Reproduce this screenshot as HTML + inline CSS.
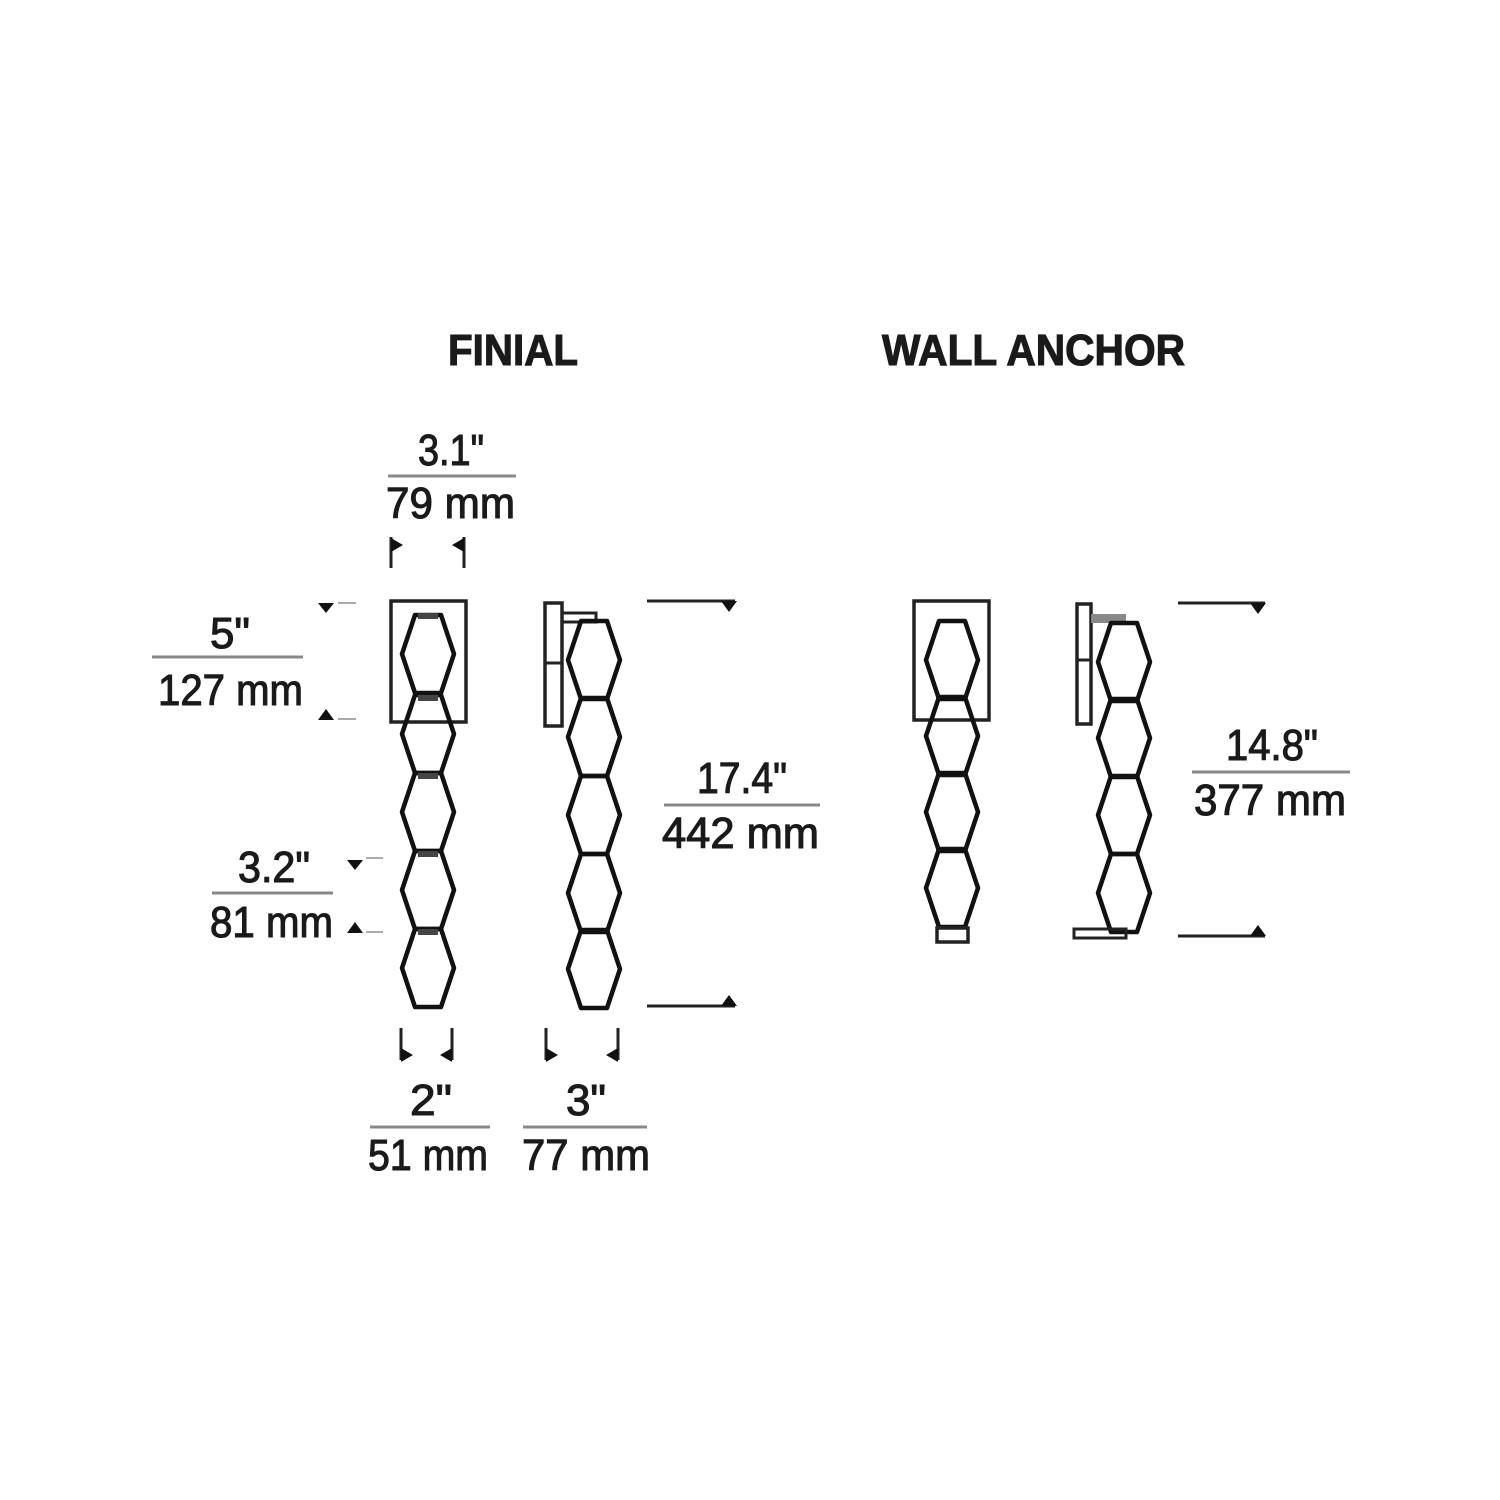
<!DOCTYPE html>
<html><head><meta charset="utf-8"><style>
html,body{margin:0;padding:0;background:#fff}
svg{display:block}
text{font-family:"Liberation Sans",sans-serif;fill:#1a1a1a;font-size:44px;stroke:#1a1a1a;stroke-width:1.1}
</style></head><body>
<svg width="1500" height="1500" viewBox="0 0 1500 1500" xmlns="http://www.w3.org/2000/svg">
<defs>
<polygon id="hx" points="-13,-39 13,-39 26,0 13,39 -13,39 -26,0" fill="none" stroke="#111" stroke-width="4.5" stroke-linejoin="round"/>
</defs>
<rect width="1500" height="1500" fill="#fff"/>

<text x="448" y="365" textLength="130" lengthAdjust="spacingAndGlyphs" font-weight="bold" font-size="44">FINIAL</text>
<text x="882" y="365" textLength="303" lengthAdjust="spacingAndGlyphs" font-weight="bold" font-size="44">WALL ANCHOR</text>

<g stroke="#888" stroke-width="3">
<line x1="388" y1="476" x2="516" y2="476"/>
<line x1="152" y1="657" x2="303" y2="657"/>
<line x1="212" y1="893" x2="333" y2="893"/>
<line x1="664" y1="805" x2="820" y2="805"/>
<line x1="1192" y1="772" x2="1350" y2="772"/>
<line x1="370" y1="1127" x2="490" y2="1127"/>
<line x1="523" y1="1127" x2="647" y2="1127"/>
</g>

<text x="418" y="465" textLength="66" lengthAdjust="spacingAndGlyphs">3.1"</text>
<text x="386" y="518" textLength="129" lengthAdjust="spacingAndGlyphs">79 mm</text>
<text x="210" y="648" textLength="40" lengthAdjust="spacingAndGlyphs">5"</text>
<text x="158" y="705" textLength="145" lengthAdjust="spacingAndGlyphs">127 mm</text>
<text x="238" y="882" textLength="72" lengthAdjust="spacingAndGlyphs">3.2"</text>
<text x="210" y="937" textLength="123" lengthAdjust="spacingAndGlyphs">81 mm</text>
<text x="697" y="793" textLength="90" lengthAdjust="spacingAndGlyphs">17.4"</text>
<text x="662" y="848" textLength="157" lengthAdjust="spacingAndGlyphs">442 mm</text>
<text x="1226" y="760" textLength="92" lengthAdjust="spacingAndGlyphs">14.8"</text>
<text x="1194" y="815" textLength="152" lengthAdjust="spacingAndGlyphs">377 mm</text>
<text x="410" y="1115" textLength="42" lengthAdjust="spacingAndGlyphs">2"</text>
<text x="368" y="1170" textLength="120" lengthAdjust="spacingAndGlyphs">51 mm</text>
<text x="566" y="1115" textLength="40" lengthAdjust="spacingAndGlyphs">3"</text>
<text x="522" y="1170" textLength="128" lengthAdjust="spacingAndGlyphs">77 mm</text>

<g stroke="#222" stroke-width="3" fill="#111">
<line x1="391" y1="537" x2="391" y2="568"/><polygon points="391,538 403,545 391,552" stroke="none"/>
<line x1="464" y1="537" x2="464" y2="568"/><polygon points="464,538 452,545 464,552" stroke="none"/>
<polygon points="318,603 334,603 326,613" stroke="none"/>
<polygon points="318,720 334,720 326,709" stroke="none"/>
<polygon points="347,860 363,860 355,870" stroke="none"/>
<polygon points="347,933 363,933 355,922" stroke="none"/>
<line x1="401" y1="1028" x2="401" y2="1060"/><polygon points="401,1048 413,1055 401,1062" stroke="none"/>
<line x1="452" y1="1028" x2="452" y2="1060"/><polygon points="452,1048 440,1055 452,1062" stroke="none"/>
<line x1="546" y1="1028" x2="546" y2="1060"/><polygon points="546,1048 558,1055 546,1062" stroke="none"/>
<line x1="618" y1="1028" x2="618" y2="1060"/><polygon points="618,1048 606,1055 618,1062" stroke="none"/>
<line x1="647" y1="601" x2="735" y2="601"/><polygon points="721,601 737,601 729,612" stroke="none"/>
<line x1="647" y1="1006" x2="735" y2="1006"/><polygon points="721,1006 737,1006 729,995" stroke="none"/>
<line x1="1178" y1="603" x2="1265" y2="603"/><polygon points="1250,603 1266,603 1258,614" stroke="none"/>
<line x1="1178" y1="936" x2="1265" y2="936"/><polygon points="1250,936 1266,936 1258,925" stroke="none"/>
</g>
<g stroke="#aaa" stroke-width="2">
<line x1="338" y1="603" x2="356" y2="603"/><line x1="338" y1="719" x2="356" y2="719"/>
<line x1="366" y1="858" x2="383" y2="858"/><line x1="366" y1="932" x2="383" y2="932"/>
</g>

<rect x="391" y="601" width="75" height="121" fill="none" stroke="#222" stroke-width="3.5"/>
<use href="#hx" x="428" y="654"/>
<use href="#hx" x="428" y="734"/>
<use href="#hx" x="428" y="812"/>
<use href="#hx" x="428" y="890"/>
<use href="#hx" x="428" y="968"/>
<g fill="#444"><rect x="418" y="613" width="20" height="6"/><rect x="418" y="695" width="20" height="6"/><rect x="418" y="773" width="20" height="6"/><rect x="418" y="851" width="20" height="6"/><rect x="418" y="929" width="20" height="6"/></g>

<rect x="545" y="603" width="17" height="123" fill="none" stroke="#222" stroke-width="3.5"/>
<line x1="545" y1="663" x2="562" y2="663" stroke="#222" stroke-width="3"/>
<rect x="562" y="613" width="34" height="9" fill="none" stroke="#222" stroke-width="3"/>
<use href="#hx" x="594" y="660"/>
<use href="#hx" x="594" y="737"/>
<use href="#hx" x="594" y="815"/>
<use href="#hx" x="594" y="893"/>
<use href="#hx" x="594" y="969"/>

<rect x="914" y="601" width="75" height="119" fill="none" stroke="#222" stroke-width="3.5"/>
<use href="#hx" x="952" y="660"/>
<use href="#hx" x="952" y="736"/>
<use href="#hx" x="952" y="812"/>
<use href="#hx" x="952" y="888"/>
<rect x="937" y="928" width="31" height="14" fill="none" stroke="#222" stroke-width="3.5"/>

<rect x="1077" y="604" width="14" height="120" fill="none" stroke="#222" stroke-width="3.5"/>
<line x1="1077" y1="660" x2="1091" y2="660" stroke="#222" stroke-width="3"/>
<rect x="1091" y="614" width="35" height="9" fill="#888"/>
<use href="#hx" x="1124" y="662"/>
<use href="#hx" x="1124" y="738"/>
<use href="#hx" x="1124" y="815"/>
<use href="#hx" x="1124" y="893"/>
<rect x="1074" y="929" width="52" height="9" fill="none" stroke="#222" stroke-width="3"/>
</svg>
</body></html>
